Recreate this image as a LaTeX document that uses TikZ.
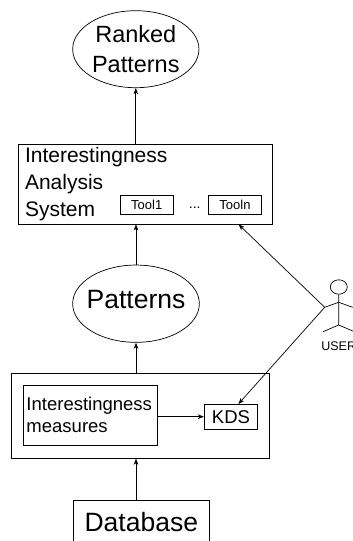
\documentclass[tikz,border=0pt]{standalone}
\usepackage{fontspec}
\setmainfont{Liberation Sans}
\usetikzlibrary{shapes.geometric,arrows.meta,calc}
\tikzset{
  box/.style={draw, rectangle, line width=0.7pt, inner sep=0pt},
  ell/.style={draw, ellipse, line width=0.7pt, inner sep=0pt},
  arr/.style={-{Stealth[length=6pt,width=4.5pt,inset=1.5pt]}, line width=0.7pt},
  fig/.style={line width=0.7pt},
}
\begin{document}
\begin{tikzpicture}[x=1pt,y=-1pt]
\useasboundingbox (0,0) rectangle (353,541);
\clip (0,0) rectangle (353,541);
% top ellipse
\node[ell, minimum width=126.3pt, minimum height=77pt, align=center,
      font=\fontsize{23.5}{30}\selectfont] (ranked) at (135.8,49.2) {Ranked\\Patterns};
% interestingness analysis system
\node[box, minimum width=254pt, minimum height=80pt, text width=240.6pt, inner xsep=6.7pt,
      align=left, font=\fontsize{21}{26.7}\selectfont] (ias) at (145.3,184) {Interestingness\\Analysis\\System};
\node[box, minimum width=53.3pt, minimum height=18.7pt, font=\fontsize{13}{13}\selectfont] (tool1) at (146.7,204.7) {Tool1};
\node[inner sep=0pt, anchor=base, font=\fontsize{14}{14}\selectfont] (dots) at (194.7,208.7) {...};
\node[box, minimum width=53.3pt, minimum height=18.7pt, font=\fontsize{13}{13}\selectfont] (tooln) at (235,204.7) {Tooln};
% patterns
\node[ell, minimum width=126.7pt, minimum height=77.3pt, inner sep=-9pt, text depth=8pt,
      font=\fontsize{26.5}{26.5}\selectfont] (pat) at (136,303.7) {Patterns};
% outer box with measures and KDS
\node[box, minimum width=257.6pt, minimum height=85pt] (outer) at (140.5,415.8) {};
\node[box, minimum width=134.4pt, minimum height=60pt, text width=128pt, inner xsep=3.2pt,
      align=left, font=\fontsize{18.5}{22.7}\selectfont] (inner) at (90.5,415) {Interestingness\\measures};
\node[box, minimum width=53.4pt, minimum height=24.7pt, font=\fontsize{18.5}{18.5}\selectfont] (kds) at (231,416.7) {KDS};
% database
\node[box, anchor=north, minimum width=136pt, text height=18.6pt, text depth=12pt,
      inner ysep=12.4pt, inner xsep=0pt, font=\fontsize{26.5}{26.5}\selectfont] (db) at (141.3,500) {Database};
% user stick figure
\node[ell, minimum width=17pt, minimum height=14.4pt] (head) at (338.8,287) {};
\coordinate (neck) at (338.7,302.3);
\coordinate (hip) at (338.7,325);
\coordinate (hand) at (324.7,307.3);
\coordinate (rhand) at (352.7,307.3);
\coordinate (lfoot) at (323,331.7);
\coordinate (rfoot) at (354.4,331.7);
\draw[fig] (head.south) -- (hip);
\draw[fig] (hand) -- (neck) -- (rhand);
\draw[fig] (lfoot) -- (hip) -- (rfoot);
\node[anchor=base, inner sep=0pt, font=\fontsize{12.5}{12.5}\selectfont] (user) at (338.7,350) {USER};
% connectors
\draw[arr] (ranked.south |- ias.north) -- (ranked.south);
\draw[arr] (pat.north) -- (pat.north |- ias.south);
\draw[arr] (pat.south |- outer.north) -- (pat.south);
\draw[arr] (pat.south |- db.north) -- (pat.south |- outer.south);
\draw[arr] (inner.east |- kds.west) -- (kds.west);
\draw[arr] (hand) -- ($(ias.south west)!0.866!(ias.south east)$);
\draw[arr] (hand) -- ($(kds.north west)!0.637!(kds.north east)$);
\end{tikzpicture}
\end{document}
